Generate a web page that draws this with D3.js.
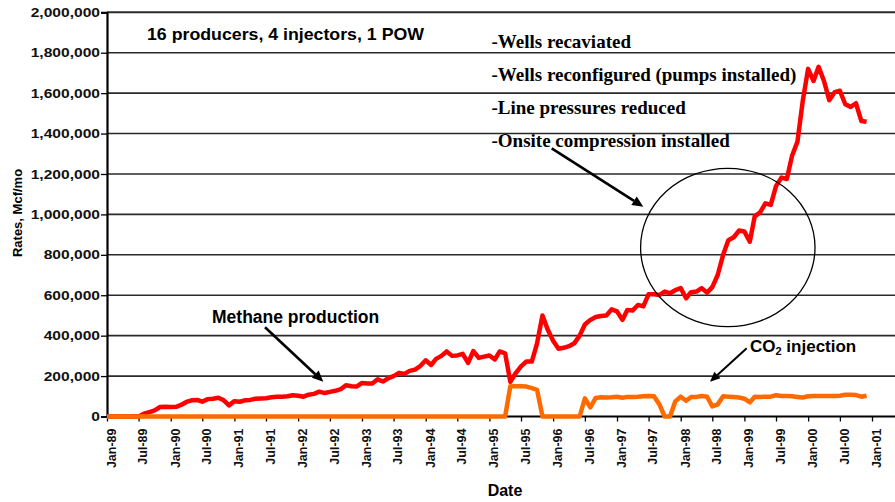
<!DOCTYPE html>
<html><head><meta charset="utf-8">
<script src="https://cdn.jsdelivr.net/npm/d3@7"></script>
<style>
html,body{margin:0;padding:0;background:#fff;}
svg{display:block;}
</style></head>
<body>
<svg id="chart" width="895" height="502"></svg>
<script>
// ---- data ----
const startYear = 1989, monthCount = 144; // Jan-89 .. Dec-00, monthly
const methane = [
 0,0,0,0,0,0,0,14000,22000,30000,47000,48000,
 47000,48000,57000,72000,80000,82000,73000,86000,88000,93000,80000,55000,
 76000,73000,80000,82000,88000,89000,90000,95000,98000,98000,100000,105000,
 103000,98000,108000,112000,123000,116000,122000,127000,135000,155000,150000,148000,
 166000,163000,163000,184000,173000,190000,200000,216000,211000,226000,232000,250000,
 278000,255000,285000,300000,322000,300000,302000,310000,265000,324000,290000,296000,
 302000,282000,322000,312000,172000,215000,248000,272000,272000,362000,500000,430000,
 375000,335000,340000,348000,362000,400000,455000,478000,492000,497000,500000,530000,
 520000,478000,527000,525000,552000,545000,605000,605000,601000,618000,610000,625000,
 635000,585000,615000,618000,635000,613000,640000,700000,800000,872000,887000,920000,
 915000,865000,990000,1010000,1055000,1047000,1140000,1182000,1175000,1290000,1360000,1560000,
 1720000,1660000,1730000,1660000,1565000,1605000,1612000,1545000,1532000,1550000,1462000,1458000
];
const co2 = [
 0,0,0,0,0,0,0,0,0,0,0,0,
 0,0,0,0,0,0,0,0,0,0,0,0,
 0,0,0,0,0,0,0,0,0,0,0,0,
 0,0,0,0,0,0,0,0,0,0,0,0,
 0,0,0,0,0,0,0,0,0,0,0,0,
 0,0,0,0,0,0,0,0,0,0,0,0,
 0,0,0,0,150000,150000,150000,148000,140000,132000,0,0,
 0,0,0,0,0,0,90000,45000,92000,95000,94000,95000,
 98000,93000,97000,97000,98000,100000,101000,100000,60000,0,0,75000,
 98000,78000,96000,97000,101000,98000,50000,60000,100000,98000,96000,94000,
 88000,70000,98000,97000,98000,98000,105000,101000,101000,100000,97000,94000,
 100000,101000,101000,101000,101000,101000,103000,108000,108000,106000,98000,103000
];
const yTicks = [0,200000,400000,600000,800000,1000000,1200000,1400000,1600000,1800000,2000000];
const yTitle = "Rates, Mcf/mo";
const xTitle = "Date";
const boxNote = "16 producers, 4 injectors, 1 POW";
const notes = ["-Wells recaviated","-Wells reconfigured (pumps installed)","-Line pressures reduced","-Onsite compression installed"];
const seriesLabels = ["Methane production","CO", "2", " injection"];

(function(){
const dates = d3.range(monthCount).map(i => new Date(startYear, i, 1));

// ---- layout ----
const svg = d3.select("#chart");
const pL = 107, pR = 895, pT = 12.3, pB = 416.5;
const x = d3.scaleTime().domain([new Date(1989,0,1), new Date(2001,0,1)]).range([pL, 872]);
const y = d3.scaleLinear().domain([0, 2000000]).range([pB, pT]);
const sans = "'Liberation Sans', Arial, sans-serif";
const serif = "'Liberation Serif', 'Times New Roman', serif";

// gridlines
svg.append("g").selectAll("line").data(yTicks.filter(d=>d>0)).join("line")
  .attr("x1", pL).attr("x2", pR)
  .attr("y1", d=>y(d)).attr("y2", d=>y(d))
  .attr("stroke", "#2a2a2a").attr("stroke-width", d=> d===2000000 ? 2 : 1.6);

// y axis
const ys = 1.2;
const yAxis = svg.append("g").attr("transform", `translate(${pL},0)`)
  .call(d3.axisLeft(y).tickValues(yTicks).tickFormat(d3.format(",")).tickSizeOuter(0).tickSize(6).tickPadding(7));
yAxis.select(".domain").attr("stroke","#000").attr("stroke-width",2.2);
yAxis.selectAll(".tick line").attr("stroke","#000").attr("stroke-width",1.3);
yAxis.selectAll(".tick text")
  .attr("font-family", sans).attr("font-weight","bold").attr("font-size", 13).attr("fill","#111")
  .attr("x", -7/ys).attr("transform",`scale(${ys},1)`);

// x axis
const xAxis = svg.append("g").attr("transform", `translate(0,${pB})`)
  .call(d3.axisBottom(x).ticks(d3.timeMonth.every(6)).tickFormat(d3.timeFormat("%b-%y")).tickSizeOuter(0).tickSize(5));
xAxis.select(".domain").attr("stroke","#000").attr("stroke-width",2.2).attr("d", `M${pL},0H${pR}`);
xAxis.selectAll(".tick line").attr("stroke","#000").attr("stroke-width",1.3);
xAxis.selectAll(".tick text")
  .attr("font-family", sans).attr("font-weight","bold").attr("font-size", 12.5).attr("fill","#111")
  .attr("text-anchor","end").attr("dy","0.35em")
  .attr("transform","translate(4,12) rotate(-90)").attr("x",0).attr("y",0);

// axis titles
svg.append("text").attr("x", 505).attr("y", 496).attr("text-anchor","middle")
  .attr("font-family", sans).attr("font-weight","bold").attr("font-size", 16).text(xTitle);
svg.append("text").attr("transform","translate(22,213) rotate(-90)").attr("text-anchor","middle")
  .attr("font-family", sans).attr("font-weight","bold").attr("font-size", 13).text(yTitle);

// series
const line = d3.line().x((d,i)=>x(dates[i])).y(d=>y(d));
svg.append("path").datum(methane).attr("d", line).attr("fill","none")
  .attr("stroke","#ff0000").attr("stroke-width",4.5).attr("stroke-linejoin","round");
svg.append("path").datum(co2).attr("d", line).attr("fill","none")
  .attr("stroke","#ff6a00").attr("stroke-width",4.5).attr("stroke-linejoin","round");

// annotations
svg.append("text").attr("x",147).attr("y",39.5).attr("font-family",sans).attr("font-weight","bold")
  .attr("font-size",16.5).attr("textLength",277).attr("lengthAdjust","spacingAndGlyphs").text(boxNote);
notes.forEach((t,i)=>{
  svg.append("text").attr("x",491.5).attr("y",48.3 + i*32.8).attr("font-family",serif)
    .attr("font-weight","bold").attr("font-size",19).text(t);
});
svg.append("text").attr("x",212).attr("y",322.7).attr("font-family",sans).attr("font-weight","bold")
  .attr("font-size",17.5).text(seriesLabels[0]);
const co2t = svg.append("text").attr("x",750).attr("y",351.5).attr("font-family",sans).attr("font-weight","bold").attr("font-size",17);
co2t.append("tspan").text(seriesLabels[1]);
co2t.append("tspan").attr("font-size",11).attr("dy",3).text(seriesLabels[2]);
co2t.append("tspan").attr("dy",-3).text(seriesLabels[3]);

// ellipse
svg.append("ellipse").attr("cx",727.8).attr("cy",247.5).attr("rx",87.2).attr("ry",79.2)
  .attr("fill","none").attr("stroke","#000").attr("stroke-width",1.3);

// arrows
function arrow(x1,y1,x2,y2,w,hl,hw){
  const a = Math.atan2(y2-y1,x2-x1);
  const bx = x2 - hl*Math.cos(a), by = y2 - hl*Math.sin(a);
  svg.append("line").attr("x1",x1).attr("y1",y1).attr("x2",bx).attr("y2",by)
    .attr("stroke","#000").attr("stroke-width",w);
  const px = -Math.sin(a)*hw, py = Math.cos(a)*hw;
  svg.append("path").attr("d",`M${x2},${y2}L${bx+px},${by+py}L${bx-px},${by-py}Z`).attr("fill","#000");
}
arrow(265,327.3,323.3,381.7,2.6,11,5);
arrow(551.7,148.3,643.3,206.7,2.6,11,5);
arrow(746.7,348.3,710,381.7,2,10,4.5);
})();
</script>
</body></html>
